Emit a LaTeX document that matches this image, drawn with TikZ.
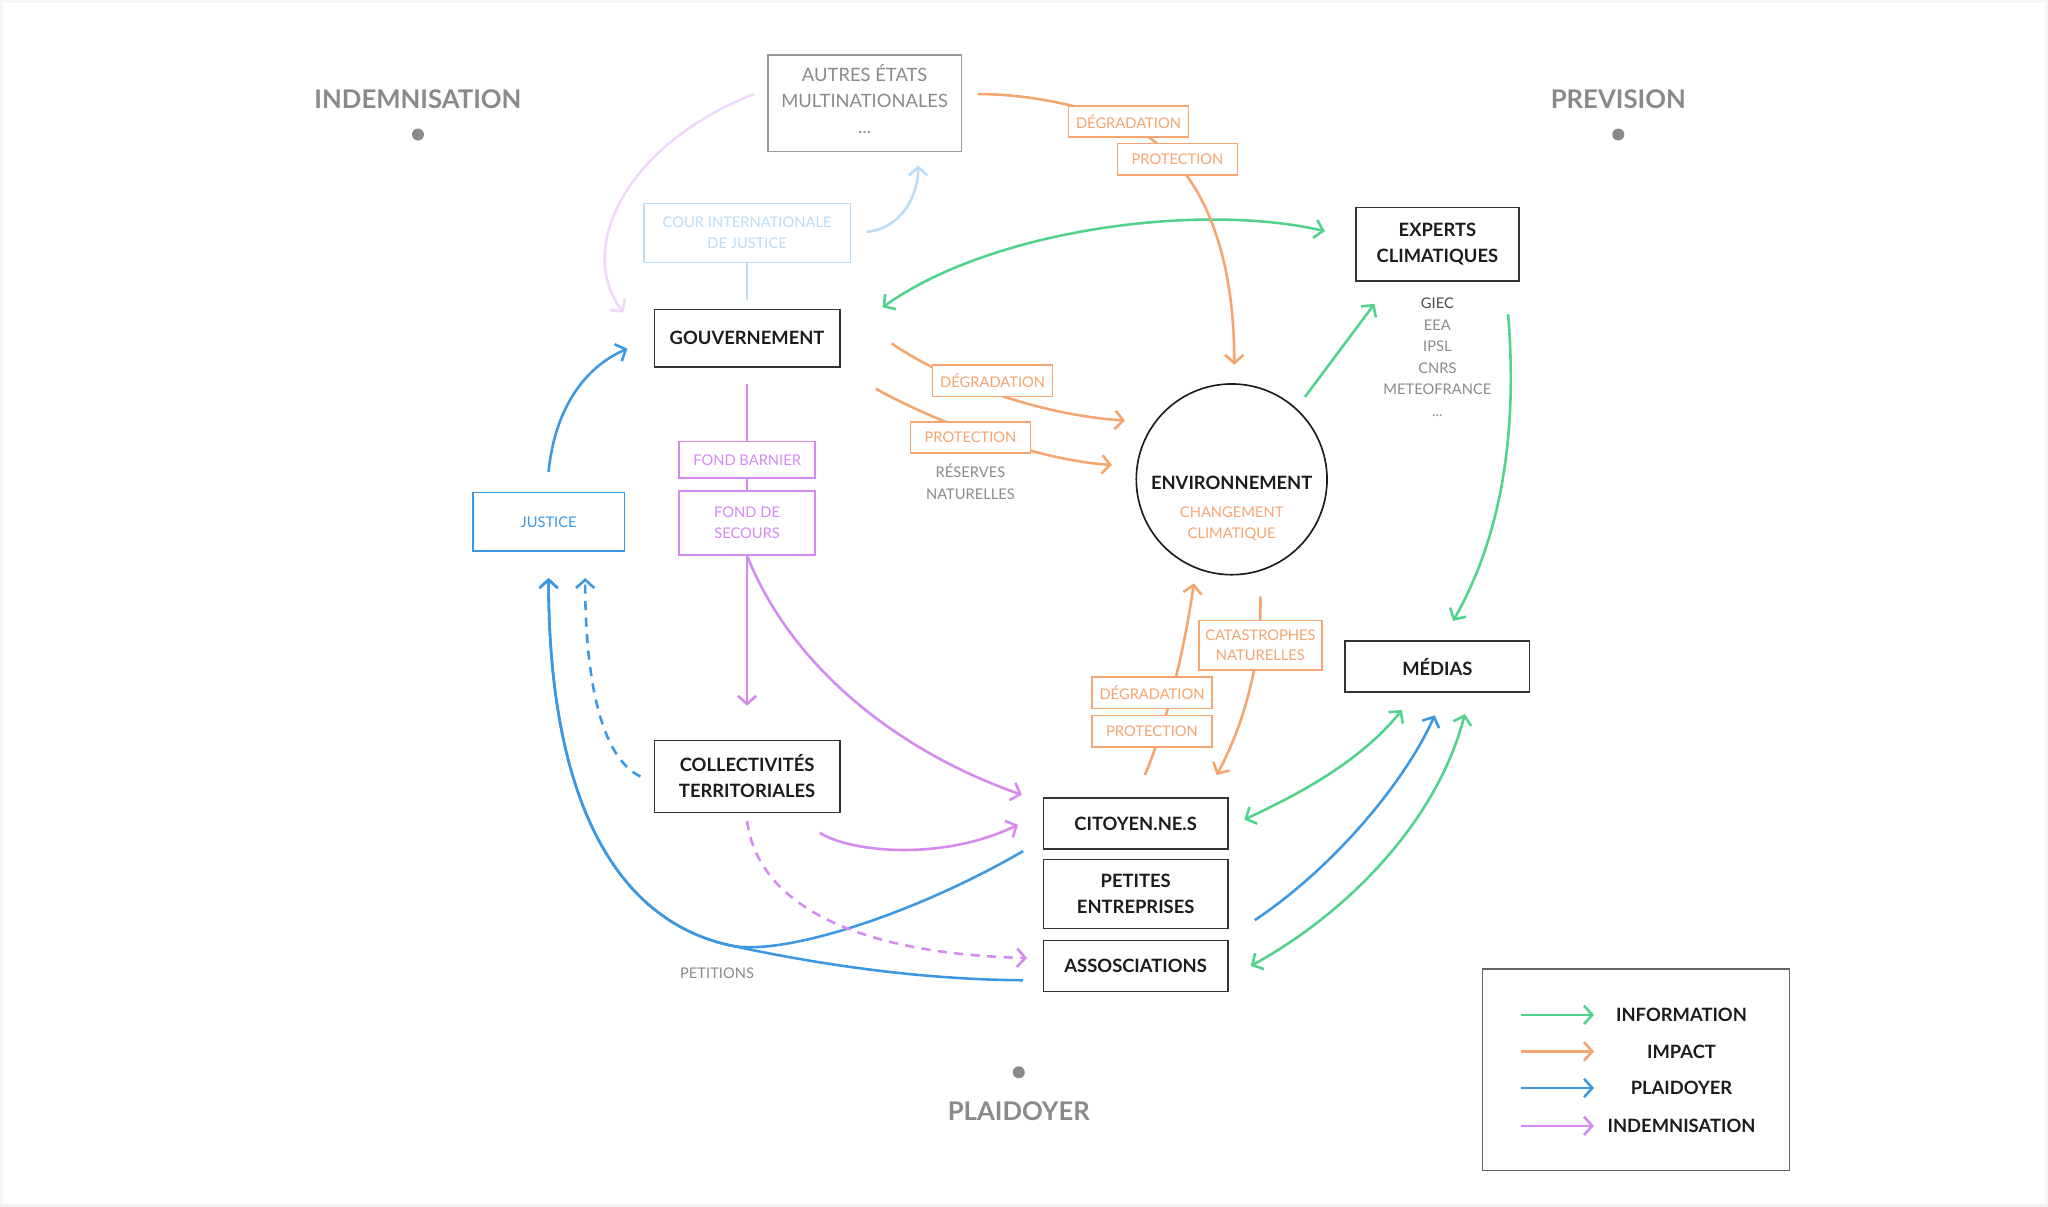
\documentclass[tikz,border=0pt]{standalone}
\usepackage{fontspec}
\setmainfont{Lato}
\usetikzlibrary{arrows.meta,calc}

\pgfdeclarelayer{background}
\pgfsetlayers{background,main}

\definecolor{infogreen}{HTML}{52D38D}
\definecolor{impactorange}{HTML}{F4A570}
\definecolor{plaidblue}{HTML}{3D98E3}
\definecolor{indempurple}{HTML}{D48AF1}
\definecolor{courblue}{HTML}{BCDDF6}
\definecolor{autrespurple}{HTML}{F0D8F8}
\definecolor{labelgray}{HTML}{8A8A8A}
\definecolor{boxgray}{HTML}{333333}
\definecolor{textdark}{HTML}{1C1C1C}

\begin{document}
\begin{tikzpicture}[
        x = 0.025cm, y = -0.025cm,
        > = {Straight Barb[length=4.5pt, width=10pt]},
        mainbox/.style = {draw=boxgray, line width=0.9pt, fill=white, inner sep=0pt,
            align=center, text=textdark, font=\bfseries\fontsize{10}{14.2}\selectfont},
        smallbox/.style = {line width=0.8pt, fill=white, inner sep=0pt, align=center,
            font=\fontsize{8}{11.4}\selectfont},
        tagbox/.style = {smallbox, draw=impactorange, text=impactorange,
            minimum width=2.3cm, minimum height=0.6cm},
        fundbox/.style = {smallbox, draw=indempurple, text=indempurple, minimum width=2.6cm},
        note/.style = {text=labelgray, align=center, font=\fontsize{8}{11.7}\selectfont},
        pole/.style = {text=labelgray, font=\bfseries\fontsize{14}{16}\selectfont},
        legendtext/.style = {text=textdark, font=\bfseries\fontsize{10}{12}\selectfont},
        infoline/.style = {draw=infogreen, line width=1.4pt},
        impactline/.style = {draw=impactorange, line width=1.4pt},
        plaidline/.style = {draw=plaidblue, line width=1.4pt},
        indemline/.style = {draw=indempurple, line width=1.4pt},
        courline/.style = {draw=courblue, line width=1.4pt},
        autresline/.style = {draw=autrespurple, line width=1.4pt},
        dashline/.style = {dash pattern=on 5pt off 4pt}
    ]

        % Page frame.
        \useasboundingbox (0,0) rectangle (1568,924);
        \draw[black!4, line width=1.5pt] (1,1) rectangle (1567,923);

        % The three poles.
        \node[pole] (indem pole) at (320,76) {INDEMNISATION};
        \node[pole] (prev pole) at (1239,76) {PREVISION};
        \node[pole] (plaid pole) at (780,851) {PLAIDOYER};
        \fill[labelgray] (320,103) circle[radius=1.15mm];
        \fill[labelgray] (1239,103) circle[radius=1.15mm];
        \fill[labelgray] (780,821) circle[radius=1.15mm];

        % Actors.
        \node[mainbox, draw=black!40, text=labelgray, font=\fontsize{10}{14.2}\selectfont,
            minimum width=3.7cm, minimum height=1.85cm] (autres) at (662,79)
            {AUTRES ÉTATS\\MULTINATIONALES\\...\\[-10pt]};
        \node[smallbox, draw=courblue, text=courblue, minimum width=3.95cm,
            minimum height=1.125cm] (cour) at (572,178.5) {COUR INTERNATIONALE\\DE JUSTICE};
        \node[mainbox, minimum width=3.55cm, minimum height=1.1cm] (gouv) at (572,259) {GOUVERNEMENT};
        \node[fundbox, minimum height=0.7cm] (barnier) at (572,352) {FOND BARNIER};
        \node[fundbox, minimum height=1.225cm] (secours) at (572,400.5) {FOND DE\\SECOURS};
        \node[smallbox, draw=plaidblue, text=plaidblue, minimum width=2.9cm,
            minimum height=1.125cm] (justice) at (420,399.5) {JUSTICE};
        \node[mainbox, minimum width=3.55cm, minimum height=1.375cm] (collec) at (572,594.5)
            {COLLECTIVITÉS\\TERRITORIALES};
        \node[mainbox, minimum width=3.525cm, minimum height=0.975cm] (citoyens) at (869.5,630.5) {CITOYEN.NE.S};
        \node[mainbox, minimum width=3.525cm, minimum height=1.325cm] (petites) at (869.5,684.5)
            {PETITES\\ENTREPRISES};
        \node[mainbox, minimum width=3.525cm, minimum height=0.975cm] (assoc) at (869.5,739.5) {ASSOSCIATIONS};
        \node[mainbox, minimum width=3.525cm, minimum height=0.975cm] (medias) at (1100.5,510.5) {MÉDIAS};
        \node[mainbox, minimum width=3.125cm, minimum height=1.4cm] (experts) at (1100.5,187)
            {EXPERTS\\CLIMATIQUES};
        \node[draw=textdark, line width=0.9pt, circle, minimum size=3.65cm, inner sep=0pt] (env) at (943,367) {};
        \node[text=textdark, font=\bfseries\fontsize{10}{14.2}\selectfont] (env title) at (943,370) {ENVIRONNEMENT};
        \node[note, text=impactorange] (env sub) at (943,401) {CHANGEMENT\\CLIMATIQUE};

        % Impact labels.
        \node[tagbox] (deg top) at (864,93) {DÉGRADATION};
        \node[tagbox] (prot top) at (901.5,122) {PROTECTION};
        \node[tagbox] (deg gouv) at (760,291.5) {DÉGRADATION};
        \node[tagbox] (prot gouv) at (743,335) {PROTECTION};
        \node[tagbox] (deg cit) at (882,530.5) {DÉGRADATION};
        \node[tagbox] (prot cit) at (882,560) {PROTECTION};
        \node[tagbox, minimum width=2.35cm, minimum height=0.95cm] (cata) at (965,494)
            {CATASTROPHES\\NATURELLES};

        % Free notes.
        \node[note] (reserves) at (743,369) {RÉSERVES\\NATURELLES};
        \node[note] (petitions) at (549,745) {PETITIONS};
        \node[note] (experts list) at ($(experts.south)+(0,58)$)
            {\textcolor{textdark!80}{GIEC}\\EEA\\IPSL\\CNRS\\METEOFRANCE\\...};

        \begin{pgfonlayer}{background}
            % Information.
            \draw[infoline, <->] ($(gouv.north east)+(32,-1)$) .. controls (760,175) and (920,155)
                .. ($(experts.west)+(-23,-10)$);
            \draw[infoline, ->] ($(env.north east)+(4,-11)$) -- ($(experts.south west)+(15,17)$);
            \draw[infoline, ->] ($(experts.south east)+(-9,25)$) .. controls (1162,330) and (1150,410)
                .. ($(medias.north)+(12,-15)$);
            \draw[infoline, <->] ($(citoyens.east)+(12,-3)$) .. controls (990,610) and (1040,585)
                .. ($(medias.south west)+(44,13)$);
            \draw[infoline, <->] ($(assoc.east)+(17,0)$) .. controls (1030,700) and (1100,630)
                .. ($(medias.south)+(21,16)$);

            % Impact.
            \draw[impactline, ->] ($(autres.east)+(12,-7)$) .. controls (800,72) and (860,88)
                .. ($(deg top.south)!0.5!(prot top.north)$) .. controls (925,140) and (945,200)
                .. ($(env.north)+(2,-14)$);
            \draw[impactline, ->] ($(gouv.east)+(39,4)$) .. controls (730,295) and (800,318)
                .. ($(env.west)+(-8,-45)$);
            \draw[impactline, ->] ($(gouv.south east)+(27,16)$) .. controls (710,320) and (790,352)
                .. ($(env.west)+(-18,-11)$);
            \draw[impactline, ->] ($(citoyens.north)+(7,-17)$) .. controls (895,550) and (908,490)
                .. ($(env.south)+(-29,6)$);
            \draw[impactline, ->] ($(env.south)+(22,16)$) .. controls (966,500) and (955,550)
                .. ($(citoyens.north)+(62,-17)$);

            % Plaidoyer.
            \coordinate (petitions merge) at (560,724);
            \draw[plaidline, ->] ($(justice.north)+(0,-15)$) .. controls (425,310) and (450,280)
                .. ($(gouv.west)+(-20,8)$);
            \draw[plaidline, ->] ($(citoyens.south west)+(-15,1)$) .. controls (700,700) and (600,732)
                .. (petitions merge) .. controls (470,705) and (420,610) .. ($(justice.south)+(0,20)$);
            \draw[plaidline, ->] ($(assoc.west)+(-15,11)$) .. controls (700,750) and (620,737)
                .. (petitions merge) .. controls (470,705) and (420,610) .. ($(justice.south)+(0,20)$);
            \draw[plaidline, dashline, ->] ($(collec.west)+(-10,0)$) .. controls (460,580) and (448,520)
                .. ($(justice.south)+(28,20)$);
            \draw[plaidline, ->] ($(petites.east)+(20,20)$) .. controls (1020,665) and (1075,600)
                .. ($(medias.south)+(-2,17)$);
            \draw[courline, ->] ($(cour.east)+(12,-1)$) .. controls (690,175) and (703,150)
                .. ($(autres.south)+(41,10)$);
            \draw[courline] (cour.south) -- ($(gouv.north)+(0,-7)$);

            % Indemnisation.
            \draw[autresline, ->] ($(autres.west)+(-10,-7)$) .. controls (480,110) and (440,190)
                .. ($(gouv.north west)+(-23,3)$);
            \draw[indemline, ->] ($(gouv.south)+(0,12)$) -- ($(collec.north)+(0,-26)$);
            \draw[indemline, ->] (secours.south) .. controls (610,520) and (700,580)
                .. ($(citoyens.west)+(-16,-22)$);
            \draw[indemline, ->] ($(collec.south east)+(-16,15)$) .. controls (650,652) and (720,660)
                .. ($(citoyens.west)+(-19,1)$);
            \draw[indemline, dashline, ->] ($(collec.south)+(0,6)$) .. controls (580,690) and (650,730)
                .. ($(assoc.west)+(-12,-6)$);
        \end{pgfonlayer}

        % Legend.
        \node[draw=black!60, line width=0.8pt, minimum width=5.875cm, minimum height=3.85cm,
            inner sep=0pt] (legend) at (1252.5,819) {};
        \foreach \entry/\tone/\dy in {INFORMATION/infogreen/-42, IMPACT/impactorange/-14,
                PLAIDOYER/plaidblue/14, INDEMNISATION/indempurple/43}{
            \draw[line width=1.4pt, draw=\tone, ->] ($(legend.west)+(30,\dy)$) -- ($(legend.west)+(86,\dy)$);
            \node[legendtext] at ($(legend.west)+(153,\dy)$) {\entry};
        }
    \end{tikzpicture}
\end{document}
